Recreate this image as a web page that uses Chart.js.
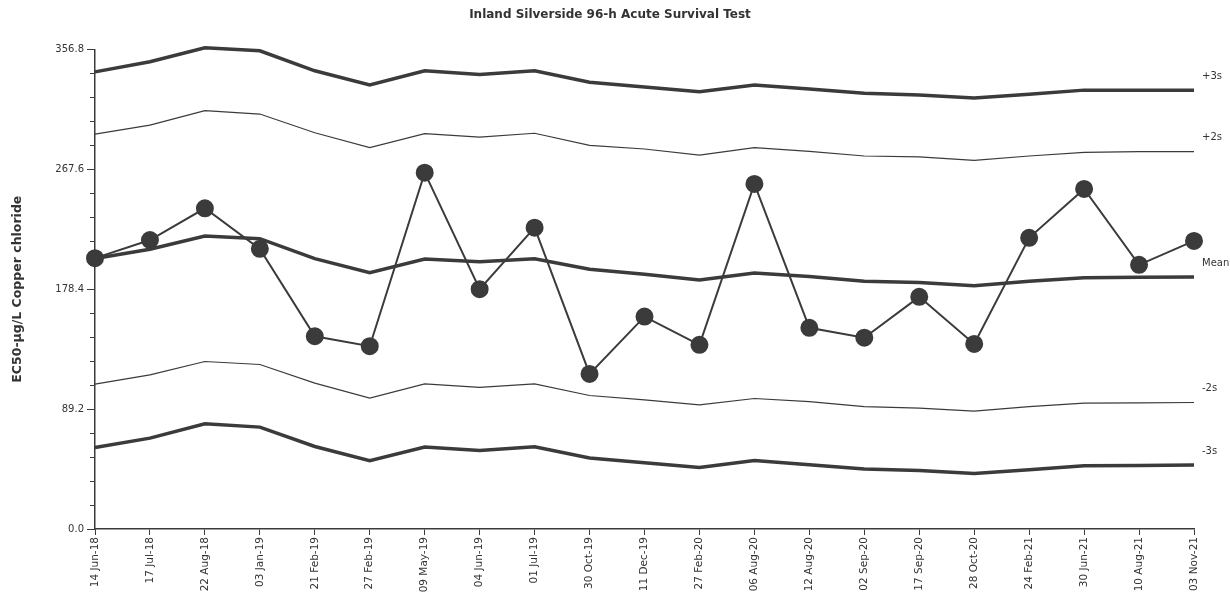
<!DOCTYPE html>
<html>
<head>
<meta charset="utf-8">
<script src="https://cdn.jsdelivr.net/npm/chart.js@4"></script>
<style>
    body { margin: 0; background: #fff; }
    canvas { display: block; }
</style>
</head>
<body>
<canvas id="survivalChart" width="1230" height="597"></canvas>
<script>
const testDates = ['14 Jun-18', '17 Jul-18', '22 Aug-18', '03 Jan-19', '21 Feb-19', '27 Feb-19', '09 May-19',
    '04 Jun-19', '01 Jul-19', '30 Oct-19', '11 Dec-19', '27 Feb-20', '06 Aug-20', '12 Aug-20', '02 Sep-20',
    '17 Sep-20', '28 Oct-20', '24 Feb-21', '30 Jun-21', '10 Aug-21', '03 Nov-21'];

// EC50 results (ug/L copper chloride)
const ec50 = [201.5, 215.0, 238.6, 208.4, 143.4, 136.0, 265.1, 178.4, 224.2, 115.4, 158.0,
    137.0, 256.7, 149.7, 142.3, 172.7, 137.7, 216.6, 253.0, 196.5, 214.3];

const plus3s = [340.1, 347.6, 358.0, 355.8, 340.9, 330.3, 340.9, 338.2, 340.9, 332.3, 328.8,
    325.3, 330.3, 327.3, 324.1, 322.8, 320.6, 323.5, 326.5, 326.5, 326.5];
const plus2s = [293.8, 300.5, 311.2, 308.7, 294.8, 283.7, 294.1, 291.6, 294.4, 285.4, 282.7,
    278.2, 283.7, 281.0, 277.5, 276.8, 274.3, 277.5, 280.2, 280.7, 280.7];
const meanLine = [201.2, 208.1, 218.0, 216.0, 201.1, 190.7, 200.9, 198.9, 201.1, 193.3, 189.6,
    185.3, 190.4, 187.9, 184.3, 183.3, 181.0, 184.3, 186.9, 187.3, 187.4];
const minus2s = [107.8, 114.7, 124.6, 122.4, 108.5, 97.4, 108.0, 105.3, 108.0, 99.3, 96.1,
    92.4, 97.1, 94.8, 91.1, 89.9, 87.7, 91.1, 93.7, 93.9, 94.1];
const minus3s = [60.7, 67.6, 78.3, 75.8, 61.4, 50.8, 61.0, 58.4, 61.2, 52.8, 49.3,
    45.8, 51.0, 47.8, 44.6, 43.6, 41.3, 44.1, 47.1, 47.3, 47.6];

const limitNames = ['+3s', '+2s', 'Mean', '-2s', '-3s'];
const yMax = 356.8;
const yStep = 17.84;

const ink = '#3b3b3b';
const textColor = '#333';
const fontFamily = '"DejaVu Sans", Verdana, sans-serif';

// labels at the right end of each control line
const lineLabels = {
    id: 'lineLabels',
    afterDatasetsDraw(chart) {
        const { ctx, chartArea, scales } = chart;
        ctx.save();
        ctx.fillStyle = textColor;
        ctx.font = '10px ' + fontFamily;
        ctx.textBaseline = 'middle';
        ctx.textAlign = 'left';
        chart.data.datasets.forEach(ds => {
            if (!limitNames.includes(ds.label)) return;
            const last = ds.data[ds.data.length - 1];
            const y = scales.y.getPixelForValue(last);
            ctx.fillText(ds.label, chartArea.right + 8, y - 14);
        });
        // short minor ticks on the y axis
        ctx.strokeStyle = ink;
        ctx.lineWidth = 1;
        scales.y.ticks.forEach((t, i) => {
            if (i % 5 === 0) return;
            const y = Math.round(scales.y.getPixelForValue(t.value)) + 0.5;
            ctx.beginPath();
            ctx.moveTo(chartArea.left - 5, y);
            ctx.lineTo(chartArea.left, y);
            ctx.stroke();
        });
        ctx.restore();
    }
};

function limitSet(label, data, width) {
    return {
        label: label,
        data: data,
        borderColor: ink,
        borderWidth: width,
        pointRadius: 0,
        tension: 0,
        fill: false,
        clip: false
    };
}

new Chart(document.getElementById('survivalChart').getContext('2d'), {
    type: 'line',
    data: {
        labels: testDates,
        datasets: [
            limitSet('+3s', plus3s, 3.5),
            limitSet('+2s', plus2s, 1.2),
            limitSet('Mean', meanLine, 3.5),
            limitSet('-2s', minus2s, 1.2),
            limitSet('-3s', minus3s, 3.5),
            {
                label: 'EC50',
                data: ec50,
                borderColor: ink,
                borderWidth: 2,
                backgroundColor: ink,
                pointBackgroundColor: ink,
                pointBorderColor: ink,
                pointRadius: 8,
                tension: 0,
                clip: false
            }
        ]
    },
    options: {
        responsive: false,
        animation: false,
        layout: {
            // left padding shifts the title centre to match the original
            padding: { left: 26, right: 36, top: 0, bottom: 0 }
        },
        plugins: {
            legend: { display: false },
            tooltip: { enabled: false },
            title: {
                display: true,
                text: 'Inland Silverside 96-h Acute Survival Test',
                color: textColor,
                font: { family: fontFamily, size: 12, weight: 'bold' },
                padding: { top: 8, bottom: 27 }
            }
        },
        scales: {
            x: {
                offset: false,
                border: { display: true, color: ink, width: 1.5 },
                grid: { display: true, drawOnChartArea: false, tickLength: 6, color: ink },
                ticks: {
                    color: textColor,
                    font: { family: fontFamily, size: 10.5 },
                    maxRotation: 90,
                    minRotation: 90,
                    autoSkip: false,
                    padding: 2
                },
                afterFit: scale => { scale.height = 68; }
            },
            y: {
                min: 0,
                max: yMax,
                border: { display: true, color: ink, width: 1.5 },
                grid: {
                    display: true,
                    drawOnChartArea: false,
                    tickLength: 8,
                    color: ctx => (ctx.index % 5 === 0 ? ink : 'rgba(0,0,0,0)')
                },
                ticks: {
                    stepSize: yStep,
                    autoSkip: false,
                    color: textColor,
                    font: { family: fontFamily, size: 10 },
                    padding: 3,
                    callback: (value, index) => (index % 5 === 0 ? Number(value).toFixed(1) : '')
                },
                title: {
                    display: true,
                    text: 'EC50-µg/L Copper chloride',
                    color: textColor,
                    font: { family: fontFamily, size: 12.5, weight: 'bold' },
                    padding: { top: -16, bottom: 0 }
                },
                afterFit: scale => { scale.width = 69; }
            }
        }
    },
    plugins: [lineLabels]
});
</script>
</body>
</html>
